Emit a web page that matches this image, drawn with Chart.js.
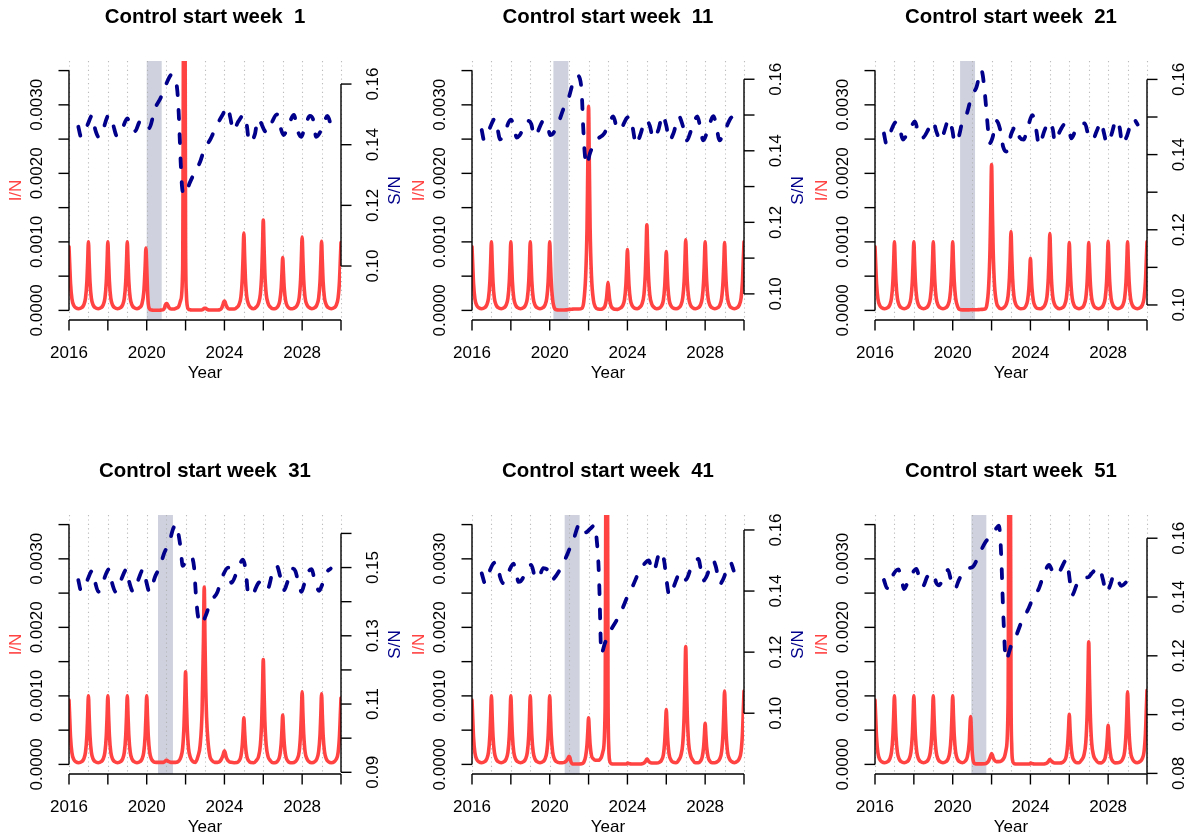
<!DOCTYPE html>
<html>
<head>
<meta charset="utf-8">
<script src="https://cdn.jsdelivr.net/npm/chart.js@4.4.1/dist/chart.umd.min.js"></script>
<style>
  html, body { margin: 0; padding: 0; background: #ffffff; }
  #wrap { position: relative; width: 1194px; height: 840px; overflow: hidden; background: #ffffff; }
  #wrap canvas { position: absolute; left: 0; top: 0; }
</style>
</head>
<body>
<div id="wrap"></div>
<script>
// ---------------------------------------------------------------------------
// Data
// ---------------------------------------------------------------------------
const startWeeks = [1, 11, 21, 31, 41, 51];
const controlStart = [2020.00, 2020.19, 2020.38, 2020.58, 2020.77, 2020.96];
const controlEnd   = [2020.77, 2020.96, 2021.15, 2021.35, 2021.54, 2021.73];

// I/N is sampled at these phases of every season (denser around the yearly peak)
const seasonYears  = [2016, 2017, 2018, 2019, 2020, 2021, 2022, 2023, 2024, 2025, 2026, 2027, 2028, 2029];
const seasonPhases = [0, 0.04, 0.08, 0.15, 0.25, 0.35, 0.5, 0.65, 0.75, 0.85, 0.92, 0.96];
const seriesEnd = 2030;

// I/N values, one row per season (12 phases) and the closing value at 2030.0
const infW1 = [
  .00093,.00065,.00039,.00017,.00007,.00004,.000025,.00004,.000075,.00018,.00042,.0007,
  .001,.0007,.00042,.00018,.000075,.00004,.000025,.00004,.000075,.00018,.00042,.0007,
  .001,.0007,.00042,.00018,.000075,.00004,.000025,.00004,.000075,.00018,.00042,.0007,
  .001,.0007,.00042,.00018,.000075,.00004,.000025,.000045,.00009,.00027,.00064,.00091,
  .00064,.0003,.0001,.00002,.000005,.000003,.000003,.000003,.000005,.00001,.00004,.00008,
  .0001,.0001,.00008,.00004,.00002,.00002,.00003,.00006,.00015,.0006,.0062,.0058,
  .001,.00025,.00008,.00002,.000008,.000005,.000005,.000005,.000005,.000008,.00002,.00003,
  .00003,.00003,.00002,.00001,.000006,.000005,.000005,.000006,.00001,.00003,.00008,.00012,
  .000137,.00012,.00008,.00004,.00002,.00002,.00002,.000045,.000085,.0002,.00047,.00079,
  .00113,.00079,.00047,.0002,.000085,.000045,.000025,.000053,.0001,.00024,.00055,.00092,
  .00132,.00092,.00055,.00024,.0001,.000053,.000025,.000031,.000058,.00014,.00032,.00054,
  .00077,.00054,.00032,.00014,.000058,.000031,.000025,.000043,.00008,.00019,.00045,.00075,
  .00107,.00075,.00045,.00019,.00008,.000043,.000025,.00004,.000076,.00018,.00042,.00071,
  .00101,.00071,.00042,.00018,.000076,.00004,.000025,.00004,.000074,.00018,.00042,.00069,
  .00099
];
const infW11 = [
  .00093,.00065,.00039,.00017,.00007,.00004,.000025,.00004,.000075,.00018,.00042,.0007,
  .001,.0007,.00042,.00018,.000075,.00004,.000025,.00004,.000075,.00018,.00042,.0007,
  .001,.0007,.00042,.00018,.000075,.00004,.000025,.00004,.000075,.00018,.00042,.0007,
  .001,.0007,.00042,.00018,.000075,.00004,.000025,.00004,.000075,.00018,.00042,.0007,
  .001,.0007,.00042,.00016,.00003,.00001,.000006,.000005,.000006,.000008,.00001,.000012,
  .000015,.000015,.000016,.000018,.00002,.00002,.00002,.00003,.00012,.0005,.0012,.0021,
  .00298,.0021,.0012,.0005,.00015,.00005,.00002,.000016,.00003,.00007,.00017,.00029,
  .00041,.00029,.00017,.00007,.00003,.000016,.000015,.000036,.000067,.00016,.00037,.00062,
  .00089,.00062,.00037,.00016,.000067,.000036,.000025,.00005,.000094,.00023,.00053,.00088,
  .00125,.00088,.00053,.00023,.000094,.00005,.000025,.000034,.000065,.00015,.00036,.0006,
  .00086,.0006,.00036,.00015,.000065,.000034,.000025,.000041,.000077,.00019,.00043,.00072,
  .00103,.00072,.00043,.00019,.000077,.000041,.000025,.00004,.000075,.00018,.00042,.0007,
  .001,.0007,.00042,.00018,.000075,.00004,.000025,.00004,.000074,.00018,.00042,.00069,
  .00099,.00069,.00042,.00018,.000074,.00004,.000025,.00004,.000075,.00018,.00042,.0007,
  .001
];
const infW21 = [
  .00093,.00065,.00039,.00017,.00007,.00004,.000025,.00004,.000075,.00018,.00042,.0007,
  .001,.0007,.00042,.00018,.000075,.00004,.000025,.00004,.000075,.00018,.00042,.0007,
  .001,.0007,.00042,.00018,.000075,.00004,.000025,.00004,.000075,.00018,.00042,.0007,
  .001,.0007,.00042,.00018,.000075,.00004,.000025,.00004,.000075,.00018,.00042,.0007,
  .001,.0007,.00042,.00018,.00006,.000015,.000008,.000008,.000008,.000008,.00001,.00001,
  .00001,.00001,.00001,.00001,.00001,.000012,.000015,.00002,.00007,.00035,.0009,.0015,
  .00213,.0015,.0009,.00038,.00012,.00005,.000025,.000046,.000086,.00021,.00048,.0008,
  .00115,.0008,.00048,.00021,.000086,.000046,.000025,.00003,.000057,.00014,.00032,.00053,
  .00076,.00053,.00032,.00014,.000057,.00003,.000025,.000045,.000084,.0002,.00047,.00078,
  .00112,.00078,.00047,.0002,.000084,.000045,.000025,.00004,.000074,.00018,.00042,.00069,
  .00099,.00069,.00042,.00018,.000074,.00004,.000025,.00004,.000074,.00018,.00042,.00069,
  .00099,.00069,.00042,.00018,.000074,.00004,.000025,.00004,.000076,.00018,.00042,.00071,
  .00101,.00071,.00042,.00018,.000076,.00004,.000025,.00004,.000075,.00018,.00042,.0007,
  .001,.0007,.00042,.00018,.000075,.00004,.000025,.00004,.000075,.00018,.00042,.0007,
  .001
];
const infW31 = [
  .00094,.00066,.00039,.00017,.00007,.00004,.000025,.00004,.000075,.00018,.00042,.0007,
  .001,.0007,.00042,.00018,.000075,.00004,.000025,.00004,.000075,.00018,.00042,.0007,
  .001,.0007,.00042,.00018,.000075,.00004,.000025,.00004,.000075,.00018,.00042,.0007,
  .001,.0007,.00042,.00018,.000075,.00004,.000025,.00004,.000075,.00018,.00042,.0007,
  .001,.0007,.00042,.00018,.000075,.00004,.00003,.00003,.00003,.00003,.00004,.00005,
  .00006,.00006,.00005,.00004,.00003,.00003,.00003,.00005,.0001,.00024,.00057,.00095,
  .00135,.00095,.00057,.00024,.0001,.00005,.00003,.00013,.00028,.00078,.0018,.00259,
  .0018,.0011,.0007,.00035,.00012,.00006,.00003,.00003,.00004,.00008,.00013,.00017,
  .0002,.00017,.00012,.00007,.00004,.00003,.000025,.000027,.000051,.00012,.00029,.00048,
  .00068,.00048,.00029,.00012,.000051,.000027,.000025,.00006,.00011,.00028,.00064,.00107,
  .00153,.00107,.00064,.00028,.00011,.00006,.000025,.000029,.000054,.00013,.0003,.0005,
  .00072,.0005,.0003,.00013,.000054,.000029,.000025,.000042,.00008,.00019,.00045,.00074,
  .00106,.00074,.00045,.00019,.00008,.000042,.000025,.000041,.000077,.00019,.00043,.00072,
  .00103,.00072,.00043,.00019,.000077,.000041,.000025,.000039,.000073,.00017,.00041,.00068,
  .00097
];
const infW41 = [
  .00094,.00066,.00039,.00017,.00007,.00004,.000025,.00004,.000075,.00018,.00042,.0007,
  .001,.0007,.00042,.00018,.000075,.00004,.000025,.00004,.000075,.00018,.00042,.0007,
  .001,.0007,.00042,.00018,.000075,.00004,.000025,.00004,.000075,.00018,.00042,.0007,
  .001,.0007,.00042,.00018,.000075,.00004,.000025,.00004,.000075,.00018,.00042,.0007,
  .001,.0007,.00042,.00018,.000075,.00004,.000025,.000025,.00003,.00005,.00008,.0001,
  .00012,.0001,.00005,.00001,.000005,.000005,.000005,.000008,.00003,.00012,.00029,.00048,
  .00068,.00048,.00029,.00013,.00008,.00006,.00006,.0001,.0002,.0008,.0065,.006,
  .0011,.00025,.00006,.000015,.000006,.000005,.000005,.000005,.000005,.000005,.000005,.000005,
  .00002,.000018,.000012,.000008,.000005,.000005,.000005,.000006,.00001,.00002,.00004,.00006,
  .00008,.00007,.00005,.00003,.00002,.00002,.00002,.000032,.00006,.00014,.00034,.00056,
  .0008,.00056,.00034,.00014,.00006,.000032,.000025,.000069,.00013,.00031,.00072,.0012,
  .00172,.0012,.00072,.00031,.00013,.000069,.000025,.000024,.000045,.00011,.00025,.00042,
  .0006,.00042,.00025,.00011,.000045,.000024,.000025,.000043,.00008,.00019,.00045,.00075,
  .00107,.00075,.00045,.00019,.00008,.000043,.000025,.000043,.00008,.00019,.00045,.00075,
  .00107
];
const infW51 = [
  .00094,.00066,.00039,.00017,.00007,.00004,.000025,.00004,.000075,.00018,.00042,.0007,
  .001,.0007,.00042,.00018,.000075,.00004,.000025,.00004,.000075,.00018,.00042,.0007,
  .001,.0007,.00042,.00018,.000075,.00004,.000025,.00004,.000075,.00018,.00042,.0007,
  .001,.0007,.00042,.00018,.000075,.00004,.000025,.00004,.000075,.00018,.00042,.0007,
  .001,.0007,.00042,.00018,.000075,.00004,.000025,.00005,.00011,.00032,.0007,.0005,
  .0002,.00008,.00003,.00001,.000008,.000008,.000008,.00001,.00002,.00005,.0001,.00013,
  .00016,.00014,.0001,.00006,.00004,.00004,.00005,.0001,.00022,.0009,.0068,.0055,
  .0011,.00025,.00006,.000015,.000006,.000005,.000005,.000005,.000005,.000005,.000005,.000005,
  .00002,.000018,.000012,.000008,.000005,.000005,.000005,.000006,.00001,.00002,.00004,.00006,
  .00007,.00006,.00005,.00003,.00002,.00002,.00002,.000029,.000055,.00013,.00031,.00051,
  .00073,.00051,.00031,.00013,.000055,.000029,.000025,.000072,.00013,.00032,.00075,.00125,
  .00179,.00125,.00075,.00032,.00013,.000072,.000025,.000023,.000043,.0001,.00024,.0004,
  .00057,.0004,.00024,.0001,.000043,.000023,.000025,.000042,.00008,.00019,.00045,.00074,
  .00106,.00074,.00045,.00019,.00008,.000042,.000025,.000043,.00008,.00019,.00045,.00076,
  .00108
];

// S/N as [year, value] pairs
const susW1 = [
  [2016.48,.1459],[2016.62,.1426],[2016.75,.1440],[2016.95,.1465],[2017.2,.1497],[2017.35,.1450],
  [2017.55,.1424],[2017.75,.1450],[2018.05,.1498],[2018.25,.1470],[2018.47,.1428],[2018.7,.1445],
  [2019.0,.1487],[2019.2,.1452],[2019.4,.1445],[2019.65,.1476],[2019.9,.1478],[2020.12,.1455],
  [2020.43,.1520],[2020.72,.1555],[2021.0,.1600],[2021.3,.1632],[2021.45,.1620],[2021.58,.1575],
  [2021.65,.1500],[2021.7,.1420],[2021.75,.1340],[2021.82,.1260],[2021.92,.1236],[2022.0,.1236],
  [2022.2,.1272],[2022.45,.1306],[2022.75,.1344],[2022.95,.1382],[2023.3,.1421],[2023.57,.1459],
  [2023.9,.1498],[2024.17,.1525],[2024.3,.1490],[2024.46,.1446],[2024.71,.1476],[2025.0,.1498],
  [2025.15,.1465],[2025.27,.1408],[2025.57,.1435],[2025.72,.1485],[2025.85,.1476],[2026.05,.1448],
  [2026.2,.1440],[2026.45,.1475],[2026.7,.1500],[2026.85,.1465],[2027.05,.1432],[2027.3,.1465],
  [2027.58,.1498],[2027.75,.1450],[2027.95,.1426],[2028.15,.1460],[2028.4,.1495],[2028.58,.1480],
  [2028.72,.1426],[2029.05,.1457],[2029.3,.1495],[2029.52,.1455]
];
const susW11 = [
  [2016.5,.1458],[2016.62,.1430],[2016.75,.1440],[2016.95,.1468],[2017.18,.1490],[2017.3,.1465],
  [2017.45,.1432],[2017.6,.1440],[2018.0,.1487],[2018.15,.1470],[2018.3,.1437],[2018.45,.1443],
  [2018.86,.1484],[2019.05,.1475],[2019.2,.1441],[2019.35,.1450],[2019.67,.1483],[2019.88,.1475],
  [2020.02,.1444],[2020.15,.1447],[2020.45,.1478],[2020.7,.1516],[2020.96,.1545],[2021.2,.1590],
  [2021.42,.1610],[2021.55,.1602],[2021.65,.1560],[2021.72,.1470],[2021.8,.1395],[2021.9,.1360],
  [2022.07,.1393],[2022.42,.1430],[2022.8,.1448],[2023.05,.1475],[2023.27,.1496],[2023.45,.1465],
  [2023.6,.1458],[2023.96,.1491],[2024.13,.1496],[2024.28,.1462],[2024.44,.1417],[2024.6,.1435],
  [2024.97,.1486],[2025.15,.1470],[2025.33,.1435],[2025.59,.1458],[2025.81,.1500],[2026.0,.1470],
  [2026.16,.1429],[2026.37,.1449],[2026.65,.1496],[2026.85,.1470],[2027.05,.1429],[2027.3,.1460],
  [2027.6,.1496],[2027.75,.1465],[2027.9,.1429],[2028.15,.1460],[2028.42,.1497],[2028.58,.1470],
  [2028.73,.1429],[2029.0,.1455],[2029.3,.1490],[2029.47,.1498]
];
const susW21 = [
  [2016.46,.1456],[2016.58,.1430],[2016.7,.1440],[2016.84,.1465],[2017.1,.1487],[2017.25,.1475],
  [2017.44,.1440],[2017.58,.1448],[2017.92,.1480],[2018.05,.1488],[2018.3,.1446],[2018.45,.1445],
  [2018.78,.1470],[2019.0,.1488],[2019.16,.1461],[2019.38,.1437],[2019.53,.1456],[2019.81,.1494],
  [2019.98,.1465],[2020.1,.1432],[2020.32,.1449],[2020.49,.1487],[2020.74,.1511],[2020.96,.1554],
  [2021.22,.1579],[2021.47,.1625],[2021.55,.1610],[2021.65,.1565],[2021.73,.1520],[2021.82,.1465],
  [2021.9,.1430],[2022.05,.1445],[2022.25,.1490],[2022.45,.1465],[2022.6,.1420],[2022.76,.1408],
  [2023.02,.1456],[2023.27,.1476],[2023.45,.1445],[2023.65,.1440],[2023.85,.1470],[2024.1,.1505],
  [2024.3,.1465],[2024.44,.1425],[2024.73,.1465],[2024.95,.1487],[2025.16,.1465],[2025.25,.1434],
  [2025.54,.1465],[2025.77,.1481],[2025.98,.1470],[2026.1,.1443],[2026.37,.1470],[2026.6,.1480],
  [2026.8,.1483],[2026.98,.1452],[2027.2,.1439],[2027.4,.1461],[2027.65,.1487],[2027.77,.1461],
  [2027.94,.1430],[2028.16,.1452],[2028.42,.1492],[2028.59,.1472],[2028.73,.1428],[2028.94,.1446],
  [2029.3,.1495],[2029.52,.1480]
];
const susW31 = [
  [2016.48,.1463],[2016.62,.1432],[2016.75,.1440],[2016.94,.1463],[2017.2,.1491],[2017.34,.1458],
  [2017.51,.1429],[2017.62,.1438],[2017.8,.1466],[2018.06,.1495],[2018.2,.1458],[2018.4,.1429],
  [2018.5,.1437],[2018.71,.1468],[2018.97,.1495],[2019.1,.1458],[2019.31,.1429],[2019.4,.1437],
  [2019.57,.1465],[2019.83,.1495],[2019.96,.1463],[2020.15,.1428],[2020.25,.1440],[2020.43,.1473],
  [2020.68,.1502],[2020.89,.1541],[2021.16,.1573],[2021.37,.1615],[2021.54,.1626],[2021.63,.1600],
  [2021.75,.1555],[2021.85,.1505],[2022.14,.1532],[2022.3,.1530],[2022.44,.1500],[2022.52,.1430],
  [2022.62,.1365],[2022.8,.1335],[2023.05,.1361],[2023.29,.1400],[2023.63,.1427],[2023.86,.1468],
  [2024.2,.1500],[2024.36,.1455],[2024.66,.1490],[2024.95,.1523],[2025.1,.1490],[2025.23,.1420],
  [2025.32,.1418],[2025.49,.1425],[2025.74,.1454],[2025.9,.1458],[2026.1,.1438],[2026.25,.1440],
  [2026.45,.1480],[2026.69,.1505],[2026.9,.1468],[2027.08,.1434],[2027.2,.1450],[2027.5,.1497],
  [2027.65,.1490],[2027.8,.1458],[2027.97,.1429],[2028.1,.1450],[2028.35,.1490],[2028.49,.1495],
  [2028.66,.1458],[2028.88,.1432],[2029.0,.1445],[2029.25,.1485],[2029.47,.1497]
];
const susW41 = [
  [2016.5,.1458],[2016.67,.1426],[2016.8,.1440],[2016.93,.1469],[2017.2,.1494],[2017.3,.1490],
  [2017.45,.1445],[2017.6,.1426],[2017.7,.1435],[2018.0,.1478],[2018.13,.1490],[2018.25,.1465],
  [2018.4,.1430],[2018.5,.1432],[2018.9,.1475],[2019.05,.1486],[2019.21,.1453],[2019.4,.1440],
  [2019.67,.1475],[2019.9,.1468],[2020.05,.1436],[2020.2,.1440],[2020.7,.1491],[2020.96,.1529],
  [2021.22,.1567],[2021.45,.1612],[2021.56,.1620],[2021.7,.1605],[2021.85,.1592],[2022.1,.1605],
  [2022.33,.1616],[2022.42,.1567],[2022.5,.1500],[2022.56,.1400],[2022.6,.1300],[2022.65,.1195],
  [2022.84,.1229],[2023.1,.1267],[2023.45,.1305],[2023.75,.1344],[2024.0,.1382],[2024.3,.1420],
  [2024.56,.1458],[2024.9,.1491],[2025.1,.1500],[2025.25,.1469],[2025.35,.1465],[2025.59,.1515],
  [2025.76,.1529],[2025.9,.1495],[2026.0,.1442],[2026.16,.1385],[2026.4,.1417],[2026.6,.1450],
  [2026.7,.1458],[2026.9,.1436],[2027.05,.1440],[2027.3,.1480],[2027.65,.1505],[2027.78,.1470],
  [2027.9,.1434],[2028.05,.1445],[2028.42,.1499],[2028.55,.1480],[2028.76,.1423],[2028.9,.1435],
  [2029.31,.1493],[2029.47,.1467]
];
const susW51 = [
  [2016.46,.1458],[2016.62,.1430],[2016.75,.1445],[2016.93,.1475],[2017.2,.1494],[2017.35,.1465],
  [2017.5,.1427],[2017.65,.1445],[2017.9,.1478],[2018.13,.1496],[2018.3,.1460],[2018.47,.1438],
  [2018.69,.1469],[2019.0,.1482],[2019.16,.1447],[2019.3,.1440],[2019.47,.1458],[2019.76,.1492],
  [2019.93,.1452],[2020.12,.1428],[2020.3,.1455],[2020.5,.1481],[2020.79,.1498],[2021.04,.1503],
  [2021.35,.1543],[2021.65,.1583],[2021.99,.1611],[2022.2,.1630],[2022.38,.1643],[2022.45,.1600],
  [2022.52,.1500],[2022.57,.1400],[2022.63,.1300],[2022.73,.1186],[2023.02,.1237],[2023.28,.1271],
  [2023.58,.1322],[2023.87,.1356],[2024.13,.1396],[2024.44,.1430],[2024.68,.1475],[2024.96,.1509],
  [2025.08,.1495],[2025.2,.1475],[2025.52,.1490],[2025.85,.1526],[2025.95,.1495],[2026.05,.1445],
  [2026.15,.1407],[2026.38,.1441],[2026.65,.1464],[2027.0,.1468],[2027.13,.1479],[2027.55,.1500],
  [2027.73,.1460],[2027.91,.1415],[2028.11,.1441],[2028.3,.1475],[2028.42,.1469],[2028.68,.1438],
  [2028.94,.1452],[2029.28,.1488]
];

const infSeries = [infW1, infW11, infW21, infW31, infW41, infW51];
const susSeries = [susW1, susW11, susW21, susW31, susW41, susW51];

// Axis ticks and labels
const xTicks   = [2016, 2018, 2020, 2022, 2024, 2026, 2028, 2030];
const xLabels  = [2016, 2020, 2024, 2028];
const gridYears = [2016, 2017, 2018, 2019, 2020, 2021, 2022, 2023, 2024, 2025, 2026, 2027, 2028, 2029, 2030];
const leftTicks  = [0, 0.0005, 0.001, 0.0015, 0.002, 0.0025, 0.003, 0.0035];
const leftLabels = [0, 0.001, 0.002, 0.003];
const leftMin = -0.00014, leftMax = 0.00364;
const rightTicks = [
  [0.10, 0.12, 0.14, 0.16],
  [0.10, 0.11, 0.12, 0.13, 0.14, 0.15, 0.16],
  [0.10, 0.11, 0.12, 0.13, 0.14, 0.15, 0.16],
  [0.09, 0.10, 0.11, 0.12, 0.13, 0.14, 0.15, 0.16],
  [0.10, 0.12, 0.14, 0.16],
  [0.08, 0.10, 0.12, 0.14, 0.16]
];
const rightLabels = [
  [0.10, 0.12, 0.14, 0.16],
  [0.10, 0.12, 0.14, 0.16],
  [0.10, 0.12, 0.14, 0.16],
  [0.09, 0.11, 0.13, 0.15],
  [0.10, 0.12, 0.14, 0.16],
  [0.08, 0.10, 0.12, 0.14, 0.16]
];
const rightMin = [0.0822, 0.0927, 0.0960, 0.0895, 0.0801, 0.0798];
const rightMax = [0.1676, 0.1651, 0.1649, 0.1654, 0.1649, 0.1679];

// ---------------------------------------------------------------------------
// Layout and style
// ---------------------------------------------------------------------------
const PAGE_W = 1194, PAGE_H = 840;
const plotLeft   = [69, 472, 875];
const plotRight  = [341, 744, 1147];
const plotTop    = [61, 515];
const plotBottom = [320, 774];

const RED = '#FF4343';
const NAVY = '#00008B';
const SHADE = 'rgb(207,210,222)';
const GUIDE = 'rgba(175,175,175,0.85)';
const FONT = '"Liberation Sans", Arial, Helvetica, sans-serif';
const AXIS_PX = 17;
const TITLE_PX = 20.4;
const TICK_LEN = 10.5;

const sampleTimes = seasonYears
  .flatMap(y => seasonPhases.map(p => Math.round((y + p) * 100) / 100))
  .concat([seriesEnd]);

function rotatedText(ctx, text, x, y) {
  ctx.save();
  ctx.translate(x, y);
  ctx.rotate(-Math.PI / 2);
  ctx.fillText(text, 0, 0);
  ctx.restore();
}

function segment(ctx, x0, y0, x1, y1) {
  ctx.beginPath();
  ctx.moveTo(x0, y0);
  ctx.lineTo(x1, y1);
  ctx.stroke();
}

// Base-graphics style frame: control shading, dotted year guides, offset axes, labels
const baseFramePlugin = {
  id: 'baseFrame',
  beforeDatasetsDraw(chart, args, opts) {
    const { ctx, chartArea: a, scales } = chart;
    const x = scales.x;
    const i = opts.panel;
    ctx.save();
    ctx.fillStyle = SHADE;
    const s0 = x.getPixelForValue(controlStart[i]);
    const s1 = x.getPixelForValue(controlEnd[i]);
    ctx.fillRect(s0, a.top, s1 - s0, a.bottom - a.top);

    ctx.strokeStyle = GUIDE;
    ctx.lineWidth = 1.1;
    ctx.setLineDash([1.2, 3.2]);
    gridYears.forEach(yr => {
      const gx = Math.round(x.getPixelForValue(yr)) + 0.5;
      segment(ctx, gx, a.top, gx, a.bottom);
    });
    ctx.restore();
  },
  afterDraw(chart, args, opts) {
    const { ctx, chartArea: a, scales } = chart;
    const { x, y, y2 } = scales;
    const i = opts.panel;
    ctx.save();
    ctx.setLineDash([]);
    ctx.strokeStyle = '#000';
    ctx.lineWidth = 1.4;
    ctx.lineCap = 'butt';
    ctx.fillStyle = '#000';
    ctx.font = AXIS_PX + 'px ' + FONT;
    ctx.textAlign = 'center';
    ctx.textBaseline = 'middle';

    // bottom axis
    const yb = a.bottom;
    segment(ctx, x.getPixelForValue(xTicks[0]), yb, x.getPixelForValue(xTicks[xTicks.length - 1]), yb);
    xTicks.forEach(v => { const px = x.getPixelForValue(v); segment(ctx, px, yb, px, yb + TICK_LEN); });
    xLabels.forEach(v => ctx.fillText(String(v), x.getPixelForValue(v), yb + 33));
    ctx.fillText('Year', (a.left + a.right) / 2, yb + 53);

    // left axis (I/N)
    const xl = a.left;
    segment(ctx, xl, y.getPixelForValue(leftTicks[0]), xl, y.getPixelForValue(leftTicks[leftTicks.length - 1]));
    leftTicks.forEach(v => { const py = y.getPixelForValue(v); segment(ctx, xl - TICK_LEN, py, xl, py); });
    leftLabels.forEach(v => rotatedText(ctx, v.toFixed(4), xl - 31.5, y.getPixelForValue(v)));

    // right axis (S/N)
    const xr = a.right;
    const rt = rightTicks[i];
    segment(ctx, xr, y2.getPixelForValue(rt[0]), xr, y2.getPixelForValue(rt[rt.length - 1]));
    rt.forEach(v => { const py = y2.getPixelForValue(v); segment(ctx, xr, py, xr + TICK_LEN, py); });
    rightLabels[i].forEach(v => rotatedText(ctx, v.toFixed(2), xr + 32.5, y2.getPixelForValue(v)));

    // axis titles
    const midY = (a.top + a.bottom) / 2;
    ctx.fillStyle = RED;
    rotatedText(ctx, 'I/N', xl - 53, midY);
    ctx.fillStyle = NAVY;
    rotatedText(ctx, 'S/N', xr + 54, midY);

    // panel title
    ctx.fillStyle = '#000';
    ctx.font = 'bold ' + TITLE_PX + 'px ' + FONT;
    ctx.fillText('Control start week  ' + startWeeks[i], (a.left + a.right) / 2, a.top - 43.5);
    ctx.restore();
  }
};

const wrap = document.getElementById('wrap');

startWeeks.forEach((w, i) => {
  const col = i % 3, row = Math.floor(i / 3);
  const canvas = document.createElement('canvas');
  canvas.width = PAGE_W;
  canvas.height = PAGE_H;
  canvas.style.width = PAGE_W + 'px';
  canvas.style.height = PAGE_H + 'px';
  wrap.appendChild(canvas);

  const infPoints = sampleTimes.map((t, k) => ({ x: t, y: infSeries[i][k] }));
  const susPoints = susSeries[i].map(p => ({ x: p[0], y: p[1] }));

  new Chart(canvas, {
    type: 'line',
    data: {
      datasets: [
        {
          label: 'S/N',
          data: susPoints,
          yAxisID: 'y2',
          borderColor: NAVY,
          borderWidth: 3.8,
          borderDash: [9, 15],
          borderCapStyle: 'round',
          borderJoinStyle: 'round',
          pointRadius: 0,
          cubicInterpolationMode: 'monotone',
          fill: false,
          order: 1,
          clip: 0
        },
        {
          label: 'I/N',
          data: infPoints,
          yAxisID: 'y',
          borderColor: RED,
          borderWidth: 3.6,
          borderJoinStyle: 'round',
          borderCapStyle: 'round',
          pointRadius: 0,
          cubicInterpolationMode: 'monotone',
          fill: false,
          order: 2,
          clip: 0
        }
      ]
    },
    options: {
      responsive: false,
      maintainAspectRatio: false,
      animation: false,
      events: [],
      devicePixelRatio: 1,
      layout: {
        padding: {
          left: plotLeft[col],
          right: PAGE_W - plotRight[col],
          top: plotTop[row],
          bottom: PAGE_H - plotBottom[row]
        }
      },
      plugins: {
        legend: { display: false },
        tooltip: { enabled: false },
        baseFrame: { panel: i }
      },
      scales: {
        x:  { type: 'linear', min: 2016, max: 2030, display: false },
        y:  { type: 'linear', min: leftMin, max: leftMax, display: false },
        y2: { type: 'linear', position: 'right', min: rightMin[i], max: rightMax[i], display: false }
      }
    },
    plugins: [baseFramePlugin]
  });
});
</script>
</body>
</html>
